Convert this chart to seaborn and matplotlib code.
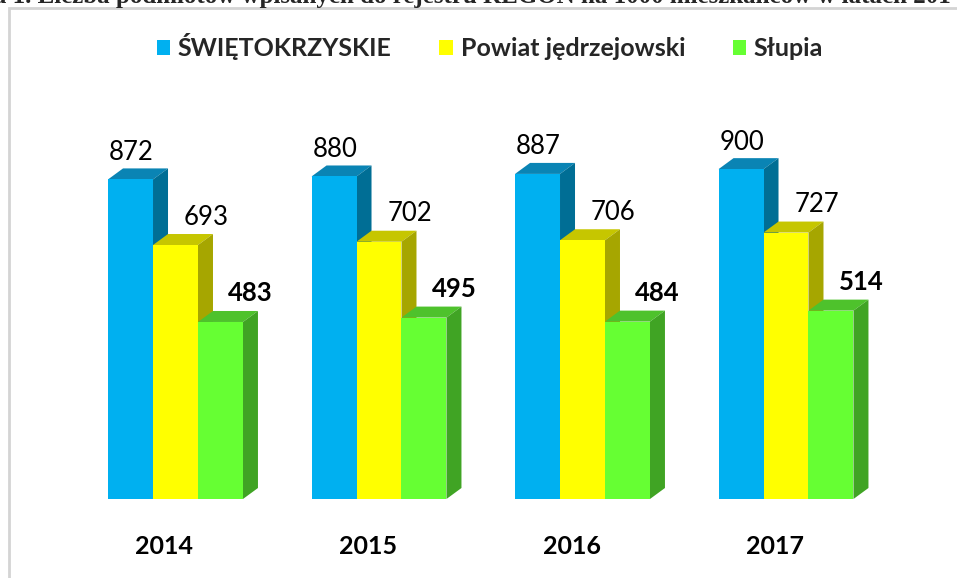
import matplotlib
matplotlib.use('Agg')
import matplotlib.pyplot as plt
from matplotlib.patches import Polygon, Rectangle
import numpy as np
import pandas as pd
import seaborn as sns

# data
years = ['2014', '2015', '2016', '2017']
series = ['ŚWIĘTOKRZYSKIE', 'Powiat jędrzejowski', 'Słupia']
swietokrzyskie = [872, 880, 887, 900]
powiat = [693, 702, 706, 727]
slupia = [483, 495, 484, 514]

front_colors = ['#00B0F0', '#FFFF00', '#66FF33']
top_colors = ['#0A84B4', '#C6C600', '#4EC22C']
side_colors = ['#006E95', '#A6A600', '#40A424']

W, H = 957, 578
sns.set_theme(style='white')
plt.rcParams['font.family'] = ['Lato', 'DejaVu Sans']

df = pd.DataFrame({
    'year': years * 3,
    'value': swietokrzyskie + powiat + slupia,
    'series': [s for s in series for _ in years],
})

fig = plt.figure(figsize=(W / 100, H / 100), dpi=100, facecolor='white')
# axes: baseline at 499 px from top, 0.3665 px per unit
ax_bottom, ax_h = 79, 399
ax = fig.add_axes([0, ax_bottom / H, 1, ax_h / H])
ax.set_facecolor('none')

sns.barplot(data=df, x='year', y='value', hue='series', palette=front_colors,
            width=0.663, saturation=1, errorbar=None, linewidth=0, ax=ax)

spacing = 203.5
ax.set_xlim(-175.5 / spacing, (W - 175.5) / spacing)
ax.set_ylim(0, ax_h / 0.3665)

# depth offsets of the fake 3d bars, from pixels to data units
xr = ax.get_xlim()[1] - ax.get_xlim()[0]
yr = ax.get_ylim()[1] - ax.get_ylim()[0]
dx = 15 * xr / W
dy = 11 * yr / ax_h

label_dx = [1, 31, 30]
label_dy = [27, 28, 29]
for k, cont in enumerate(ax.containers):
    for p in cont.patches:
        p.set_zorder(3 + 2 * k)
        x0, w, h = p.get_x(), p.get_width(), p.get_height()
        top = [(x0, h), (x0 + w, h), (x0 + w + dx, h + dy), (x0 + dx, h + dy)]
        side = [(x0 + w, 0), (x0 + w + dx, dy), (x0 + w + dx, h + dy), (x0 + w, h)]
        ax.add_patch(Polygon(top, closed=True, facecolor=top_colors[k], edgecolor='none', zorder=2 + 2 * k))
        ax.add_patch(Polygon(side, closed=True, facecolor=side_colors[k], edgecolor='none', zorder=2 + 2 * k))
        ax.annotate(f'{h:.0f}', (x0 + w / 2, h), xytext=(label_dx[k], label_dy[k]),
                    textcoords='offset pixels', ha='center', va='center', fontsize=18.5,
                    fontweight='bold' if k == 2 else 'normal', color='black', zorder=20)

ax.set_xticks(np.arange(len(years)) - 11 / spacing)
ax.set_xticklabels(years, fontsize=18, fontweight='bold', color='black')
ax.tick_params(axis='x', length=0, pad=26)
ax.set_yticks([])
ax.set_xlabel('')
ax.set_ylabel('')
sns.despine(ax=ax, left=True, bottom=True)

handles, labels = ax.get_legend_handles_labels()
ax.get_legend().remove()
fig.legend(handles, labels, loc='center', bbox_to_anchor=(490 / W, 1 - 47 / H), ncol=3,
           frameon=False, handlelength=0.55, handleheight=0.55, handletextpad=0.3,
           columnspacing=1.9, prop={'family': 'Lato', 'weight': 'bold', 'size': 18})

# chart frame and the clipped caption line above it
fig.patches.append(Rectangle((9 / W, -0.05), 1.1, (H - 8) / H + 0.05, transform=fig.transFigure,
                             fill=False, edgecolor='#d4d4d4', linewidth=2))
fig.text(0.5, 1 - 3 / H, 'Tabela 1. Liczba podmiotów wpisanych do rejestru REGON na 1000 mieszkańców w latach 2014-2017',
         ha='center', va='baseline', fontsize=18, fontweight='bold', family='Liberation Serif')

fig.savefig('out.png', dpi=100, facecolor='white')
